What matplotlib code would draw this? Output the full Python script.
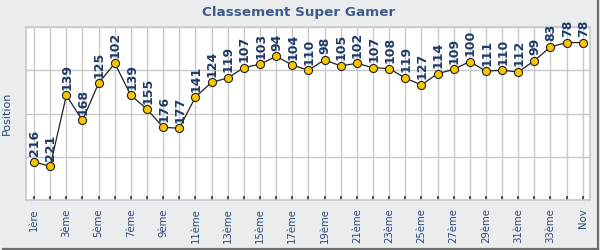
import matplotlib
matplotlib.use("Agg")
import matplotlib.pyplot as plt

positions = [216, 221, 139, 168, 125, 102, 139, 155, 176, 177, 141, 124, 119, 107,
             103, 94, 104, 110, 98, 105, 102, 107, 108, 119, 127, 114, 109, 100,
             111, 110, 112, 99, 83, 78, 78]
ordinals = ["1ère"] + [f"{i}ème" for i in range(2, 35)]
ordinals = ordinals[:34] + ["Nov"]
title = "Classement Super Gamer"
ylabel = "Position"

bg = "#EBECEE"
navy = "#2E4A78"

fig = plt.figure(figsize=(6, 2.5), dpi=100, facecolor=bg)
fig.add_artist(plt.Line2D([0.005, 0.997], [0.006, 0.006], transform=fig.transFigure,
                          color="#6E6E6E", lw=1.6))
fig.add_artist(plt.Line2D([0.997, 0.997], [0.006, 0.995], transform=fig.transFigure,
                          color="#6E6E6E", lw=1.6))

ax = fig.add_axes([26/600, 1 - 200/250, (590-26)/600, (200-27)/250])
ax.set_facecolor("white")
x = list(range(len(positions)))
ax.plot(x, positions, color="#222222", lw=0.9, zorder=3)
ax.scatter(x, positions, s=34, facecolor="#F7C600", edgecolor="#222222", lw=0.8, zorder=4)
for xi, v in zip(x, positions):
    ax.annotate(str(v), (xi, v), xytext=(0.5, 4), textcoords="offset points",
                rotation=90, ha="center", va="bottom", fontsize=9, fontweight="bold",
                color="#1E3A66", zorder=5)

ax.set_ylim(260, 60)
ax.set_xlim(-0.5, 34.45)
ax.set_yticks([60, 110, 160, 210, 260])
ax.set_yticklabels([])
ax.tick_params(axis="y", length=0)
ax.set_xticks(x)
ax.set_xticklabels([lab if i % 2 == 0 else "" for i, lab in enumerate(ordinals)],
                   rotation=90, fontsize=7.3, color=navy)
ax.tick_params(axis="x", direction="in", length=3, width=1.2, color="#1E3A66", pad=6)
ax.grid(True, color="#C8C8C8", lw=1)
ax.set_axisbelow(True)
for s in ax.spines.values():
    s.set_color("#C8C8C8")
    s.set_linewidth(1.2)

ax.set_ylabel(ylabel, color=navy, fontsize=8, labelpad=7)
fig.text(0.497, 0.95, title, ha="center", va="center", fontsize=9.7,
         fontweight="bold", color="#3F5A8A")

fig.savefig("out.png", dpi=100, facecolor=bg)
